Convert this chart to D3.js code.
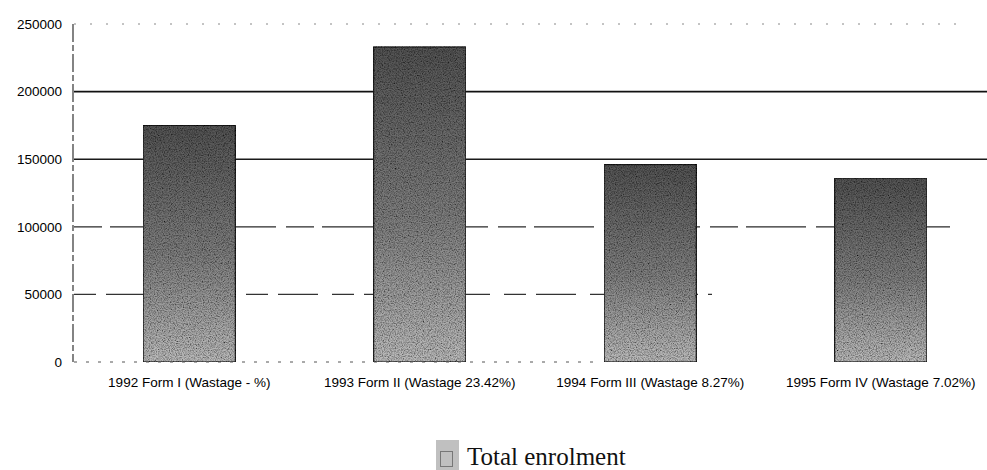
<!DOCTYPE html>
<html>

<head>
    <meta charset="utf-8">
    <script src="https://d3js.org/d3.v7.min.js"></script>
    <style>
        body { margin: 0; background: #fff; }
        .tick-label { font-family: "Liberation Sans", Arial, sans-serif; font-size: 13.5px; fill: #000; }
    </style>
</head>

<body>
    <div id="my_dataviz"></div>

    <script>
        // chart data
        var categories = [
            "1992 Form I (Wastage - %)",
            "1993 Form II (Wastage 23.42%)",
            "1994 Form III (Wastage 8.27%)",
            "1995 Form IV (Wastage 7.02%)"
        ];
        var enrolment = [175000, 233000, 146000, 136000];
        var yTicks = [0, 50000, 100000, 150000, 200000, 250000];
        var seriesName = "Total enrolment";

        var width = 987, height = 470;
        var plotLeft = 74, plotTop = 24, plotBottom = 362;

        var svg = d3.select("#my_dataviz")
            .append("svg")
            .attr("width", width)
            .attr("height", height);

        var defs = svg.append("defs");

        // dark at top, lighter towards the bottom, like the scanned shading
        var grad = defs.append("linearGradient")
            .attr("id", "barShade")
            .attr("x1", 0).attr("y1", 0).attr("x2", 0).attr("y2", 1);
        grad.append("stop").attr("offset", "0%").attr("stop-color", "#545454");
        grad.append("stop").attr("offset", "55%").attr("stop-color", "#808080");
        grad.append("stop").attr("offset", "100%").attr("stop-color", "#bcbcbc");

        // grain so the bars look like halftone print
        var grain = defs.append("filter")
            .attr("id", "grain")
            .attr("x", 0).attr("y", 0).attr("width", 1).attr("height", 1);
        grain.append("feTurbulence")
            .attr("type", "fractalNoise")
            .attr("baseFrequency", 0.85)
            .attr("numOctaves", 2)
            .attr("seed", 7)
            .attr("result", "noise");
        grain.append("feColorMatrix")
            .attr("in", "noise")
            .attr("type", "matrix")
            .attr("values", "0 0 0 0 0  0 0 0 0 0  0 0 0 0 0  1.8 0 0 0 -0.65")
            .attr("result", "dots");
        grain.append("feComposite")
            .attr("in", "dots").attr("in2", "SourceGraphic")
            .attr("operator", "in").attr("result", "dotsIn");
        var merge = grain.append("feMerge");
        merge.append("feMergeNode").attr("in", "SourceGraphic");
        merge.append("feMergeNode").attr("in", "dotsIn");

        var x = d3.scaleBand()
            .domain(categories)
            .range([plotLeft, 996])
            .paddingInner(0.6)
            .paddingOuter(0.3);

        var y = d3.scaleLinear()
            .domain([0, 250000])
            .range([plotBottom, plotTop]);

        // gridlines, each one drawn a bit differently like the original print
        var gridStyle = {
            0: { dash: "3,9", end: 600, w: 1, c: "#555" },
            50000: { dash: "22,10,40,14", end: 712, w: 1.2, c: "#333" },
            100000: { dash: "28,8,60,10", end: 956, w: 1.3, c: "#2a2a2a" },
            150000: { dash: null, end: 987, w: 1.6, c: "#1a1a1a" },
            200000: { dash: null, end: 987, w: 1.8, c: "#111" },
            250000: { dash: "2,14", end: 960, w: 1, c: "#888" }
        };

        svg.append("g")
            .selectAll("line")
            .data(yTicks)
            .enter()
            .append("line")
            .attr("x1", plotLeft)
            .attr("x2", function(d) { return gridStyle[d].end; })
            .attr("y1", function(d) { return y(d); })
            .attr("y2", function(d) { return y(d); })
            .attr("stroke", function(d) { return gridStyle[d].c; })
            .attr("stroke-width", function(d) { return gridStyle[d].w; })
            .attr("stroke-dasharray", function(d) { return gridStyle[d].dash; });

        // y axis (labels only, the line is drawn dashed)
        var yAxis = svg.append("g")
            .attr("transform", "translate(" + (plotLeft - 12) + ",0)")
            .call(d3.axisLeft(y).tickValues(yTicks).tickSize(0).tickPadding(0).tickFormat(d3.format("d")));
        yAxis.select(".domain").remove();
        yAxis.selectAll("text").attr("class", "tick-label");

        svg.append("line")
            .attr("x1", plotLeft - 1).attr("x2", plotLeft - 1)
            .attr("y1", y(250000)).attr("y2", y(0))
            .attr("stroke", "#333")
            .attr("stroke-width", 1.2)
            .attr("stroke-dasharray", "18,3,6,3");

        // bars
        svg.append("g")
            .selectAll("rect")
            .data(enrolment)
            .enter()
            .append("rect")
            .attr("x", function(d, i) { return x(categories[i]); })
            .attr("y", function(d) { return y(d); })
            .attr("width", x.bandwidth())
            .attr("height", function(d) { return y(0) - y(d); })
            .attr("fill", "url(#barShade)")
            .attr("filter", "url(#grain)")
            .attr("stroke", "#1e1e1e")
            .attr("stroke-width", 1.2);

        // x axis labels
        var xAxis = svg.append("g")
            .attr("transform", "translate(0," + (plotBottom + 15) + ")")
            .call(d3.axisBottom(x).tickSize(0).tickPadding(0));
        xAxis.select(".domain").remove();
        xAxis.selectAll("text").attr("class", "tick-label");

        // legend
        var legend = svg.append("g");
        legend.append("rect")
            .attr("x", 436).attr("y", 440)
            .attr("width", 23).attr("height", 30)
            .attr("fill", "#c0c0c0");
        legend.append("rect")
            .attr("x", 440.5).attr("y", 451.5)
            .attr("width", 12).attr("height", 15)
            .attr("fill", "none")
            .attr("stroke", "#777")
            .attr("stroke-width", 1);
        legend.append("text")
            .attr("x", 467).attr("y", 465)
            .attr("font-family", "'Liberation Serif', 'Times New Roman', serif")
            .attr("font-size", 25)
            .attr("fill", "#111")
            .text(seriesName);
    </script>
</body>

</html>
